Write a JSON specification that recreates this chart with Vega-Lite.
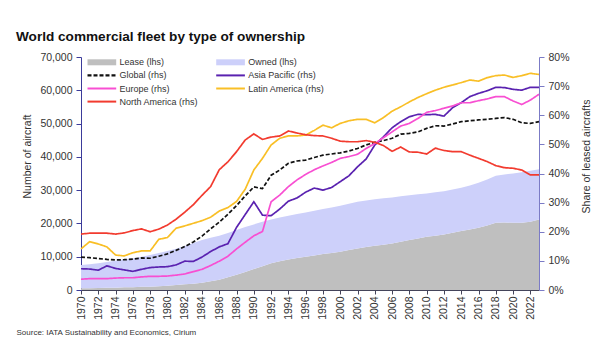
{
  "$schema": "https://vega.github.io/schema/vega-lite/v6.json",
  "width": 458,
  "height": 233,
  "autosize": {"type": "none"},
  "padding": {"left": 81, "top": 57, "right": 65, "bottom": 74},
  "background": "white",
  "config": {
    "font": "Liberation Sans",
    "view": {"stroke": null},
    "axis": {"grid": false, "labelFont": "Liberation Sans", "titleFont": "Liberation Sans"},
    "axisX": {"labelOverlap": false, "labelFlush": false}
  },
  "title": {
    "text": "World commercial fleet by type of ownership",
    "anchor": "start",
    "frame": "group",
    "fontSize": 13.6,
    "fontWeight": "bold",
    "color": "#111111",
    "dx": -65,
    "dy": 19,
    "offset": 16,
    "baseline": "alphabetic"
  },
  "datasets": {
    "fleet": [
      {"year": 1970, "Lease (lhs)": 500, "Owned (lhs)": 7000},
      {"year": 1971, "Lease (lhs)": 550, "Owned (lhs)": 7200},
      {"year": 1972, "Lease (lhs)": 600, "Owned (lhs)": 7400},
      {"year": 1973, "Lease (lhs)": 650, "Owned (lhs)": 7750},
      {"year": 1974, "Lease (lhs)": 700, "Owned (lhs)": 8100},
      {"year": 1975, "Lease (lhs)": 800, "Owned (lhs)": 8350},
      {"year": 1976, "Lease (lhs)": 850, "Owned (lhs)": 8650},
      {"year": 1977, "Lease (lhs)": 950, "Owned (lhs)": 9050},
      {"year": 1978, "Lease (lhs)": 1000, "Owned (lhs)": 9500},
      {"year": 1979, "Lease (lhs)": 1150, "Owned (lhs)": 9950},
      {"year": 1980, "Lease (lhs)": 1300, "Owned (lhs)": 10400},
      {"year": 1981, "Lease (lhs)": 1500, "Owned (lhs)": 10900},
      {"year": 1982, "Lease (lhs)": 1700, "Owned (lhs)": 11500},
      {"year": 1983, "Lease (lhs)": 1900, "Owned (lhs)": 12200},
      {"year": 1984, "Lease (lhs)": 2200, "Owned (lhs)": 12800},
      {"year": 1985, "Lease (lhs)": 2600, "Owned (lhs)": 13100},
      {"year": 1986, "Lease (lhs)": 3100, "Owned (lhs)": 13200},
      {"year": 1987, "Lease (lhs)": 3800, "Owned (lhs)": 13300},
      {"year": 1988, "Lease (lhs)": 4600, "Owned (lhs)": 13400},
      {"year": 1989, "Lease (lhs)": 5400, "Owned (lhs)": 13500},
      {"year": 1990, "Lease (lhs)": 6300, "Owned (lhs)": 13400},
      {"year": 1991, "Lease (lhs)": 7100, "Owned (lhs)": 13400},
      {"year": 1992, "Lease (lhs)": 8000, "Owned (lhs)": 13200},
      {"year": 1993, "Lease (lhs)": 8600, "Owned (lhs)": 13200},
      {"year": 1994, "Lease (lhs)": 9200, "Owned (lhs)": 13100},
      {"year": 1995, "Lease (lhs)": 9600, "Owned (lhs)": 13200},
      {"year": 1996, "Lease (lhs)": 10000, "Owned (lhs)": 13300},
      {"year": 1997, "Lease (lhs)": 10400, "Owned (lhs)": 13400},
      {"year": 1998, "Lease (lhs)": 10800, "Owned (lhs)": 13500},
      {"year": 1999, "Lease (lhs)": 11100, "Owned (lhs)": 13700},
      {"year": 2000, "Lease (lhs)": 11500, "Owned (lhs)": 13800},
      {"year": 2001, "Lease (lhs)": 12000, "Owned (lhs)": 13900},
      {"year": 2002, "Lease (lhs)": 12500, "Owned (lhs)": 14000},
      {"year": 2003, "Lease (lhs)": 12900, "Owned (lhs)": 14000},
      {"year": 2004, "Lease (lhs)": 13300, "Owned (lhs)": 14000},
      {"year": 2005, "Lease (lhs)": 13600, "Owned (lhs)": 14000},
      {"year": 2006, "Lease (lhs)": 14000, "Owned (lhs)": 13800},
      {"year": 2007, "Lease (lhs)": 14500, "Owned (lhs)": 13700},
      {"year": 2008, "Lease (lhs)": 15000, "Owned (lhs)": 13500},
      {"year": 2009, "Lease (lhs)": 15500, "Owned (lhs)": 13300},
      {"year": 2010, "Lease (lhs)": 16000, "Owned (lhs)": 13000},
      {"year": 2011, "Lease (lhs)": 16300, "Owned (lhs)": 13100},
      {"year": 2012, "Lease (lhs)": 16700, "Owned (lhs)": 13000},
      {"year": 2013, "Lease (lhs)": 17200, "Owned (lhs)": 13000},
      {"year": 2014, "Lease (lhs)": 17700, "Owned (lhs)": 13000},
      {"year": 2015, "Lease (lhs)": 18200, "Owned (lhs)": 13200},
      {"year": 2016, "Lease (lhs)": 18700, "Owned (lhs)": 13500},
      {"year": 2017, "Lease (lhs)": 19400, "Owned (lhs)": 13800},
      {"year": 2018, "Lease (lhs)": 20200, "Owned (lhs)": 14100},
      {"year": 2019, "Lease (lhs)": 20300, "Owned (lhs)": 14400},
      {"year": 2020, "Lease (lhs)": 20200, "Owned (lhs)": 14800},
      {"year": 2021, "Lease (lhs)": 20200, "Owned (lhs)": 15200},
      {"year": 2022, "Lease (lhs)": 20500, "Owned (lhs)": 15300},
      {"year": 2023, "Lease (lhs)": 21200, "Owned (lhs)": 15100}
    ],
    "shares": [
      {"year": 1970, "Global (rhs)": 11.3, "Asia Pacific (rhs)": 7.3, "Europe (rhs)": 3.7, "Latin America (rhs)": 14.1, "North America (rhs)": 19.2},
      {"year": 1971, "Global (rhs)": 11.1, "Asia Pacific (rhs)": 7.2, "Europe (rhs)": 3.9, "Latin America (rhs)": 16.6, "North America (rhs)": 19.5},
      {"year": 1972, "Global (rhs)": 10.8, "Asia Pacific (rhs)": 6.8, "Europe (rhs)": 3.9, "Latin America (rhs)": 15.8, "North America (rhs)": 19.5},
      {"year": 1973, "Global (rhs)": 10.5, "Asia Pacific (rhs)": 8.3, "Europe (rhs)": 3.9, "Latin America (rhs)": 14.8, "North America (rhs)": 19.5},
      {"year": 1974, "Global (rhs)": 10.3, "Asia Pacific (rhs)": 7.4, "Europe (rhs)": 4.1, "Latin America (rhs)": 12.0, "North America (rhs)": 19.2},
      {"year": 1975, "Global (rhs)": 10.4, "Asia Pacific (rhs)": 6.9, "Europe (rhs)": 4.2, "Latin America (rhs)": 11.7, "North America (rhs)": 19.6},
      {"year": 1976, "Global (rhs)": 10.6, "Asia Pacific (rhs)": 6.4, "Europe (rhs)": 4.2, "Latin America (rhs)": 12.8, "North America (rhs)": 20.4},
      {"year": 1977, "Global (rhs)": 11.0, "Asia Pacific (rhs)": 7.1, "Europe (rhs)": 4.5, "Latin America (rhs)": 13.4, "North America (rhs)": 21.0},
      {"year": 1978, "Global (rhs)": 10.9, "Asia Pacific (rhs)": 7.7, "Europe (rhs)": 4.7, "Latin America (rhs)": 13.4, "North America (rhs)": 20.0},
      {"year": 1979, "Global (rhs)": 11.6, "Asia Pacific (rhs)": 7.9, "Europe (rhs)": 4.7, "Latin America (rhs)": 17.4, "North America (rhs)": 20.9},
      {"year": 1980, "Global (rhs)": 12.4, "Asia Pacific (rhs)": 8.0, "Europe (rhs)": 4.8, "Latin America (rhs)": 18.0, "North America (rhs)": 22.3},
      {"year": 1981, "Global (rhs)": 13.6, "Asia Pacific (rhs)": 8.6, "Europe (rhs)": 5.1, "Latin America (rhs)": 21.2, "North America (rhs)": 24.3},
      {"year": 1982, "Global (rhs)": 14.9, "Asia Pacific (rhs)": 9.9, "Europe (rhs)": 5.5, "Latin America (rhs)": 22.0, "North America (rhs)": 26.7},
      {"year": 1983, "Global (rhs)": 16.5, "Asia Pacific (rhs)": 9.8, "Europe (rhs)": 6.3, "Latin America (rhs)": 22.9, "North America (rhs)": 29.3},
      {"year": 1984, "Global (rhs)": 18.5, "Asia Pacific (rhs)": 11.3, "Europe (rhs)": 7.1, "Latin America (rhs)": 23.8, "North America (rhs)": 32.5},
      {"year": 1985, "Global (rhs)": 21.0, "Asia Pacific (rhs)": 13.2, "Europe (rhs)": 8.4, "Latin America (rhs)": 25.0, "North America (rhs)": 35.5},
      {"year": 1986, "Global (rhs)": 23.3, "Asia Pacific (rhs)": 14.8, "Europe (rhs)": 9.9, "Latin America (rhs)": 27.1, "North America (rhs)": 41.3},
      {"year": 1987, "Global (rhs)": 26.0, "Asia Pacific (rhs)": 15.9, "Europe (rhs)": 11.6, "Latin America (rhs)": 28.3, "North America (rhs)": 44.0},
      {"year": 1988, "Global (rhs)": 29.0, "Asia Pacific (rhs)": 21.5, "Europe (rhs)": 14.1, "Latin America (rhs)": 30.4, "North America (rhs)": 47.5},
      {"year": 1989, "Global (rhs)": 32.3, "Asia Pacific (rhs)": 25.9, "Europe (rhs)": 16.4, "Latin America (rhs)": 34.6, "North America (rhs)": 51.5},
      {"year": 1990, "Global (rhs)": 35.4, "Asia Pacific (rhs)": 30.3, "Europe (rhs)": 18.6, "Latin America (rhs)": 41.2, "North America (rhs)": 53.6},
      {"year": 1991, "Global (rhs)": 34.8, "Asia Pacific (rhs)": 25.7, "Europe (rhs)": 20.1, "Latin America (rhs)": 45.2, "North America (rhs)": 51.7},
      {"year": 1992, "Global (rhs)": 39.4, "Asia Pacific (rhs)": 25.5, "Europe (rhs)": 30.3, "Latin America (rhs)": 49.8, "North America (rhs)": 52.5},
      {"year": 1993, "Global (rhs)": 41.2, "Asia Pacific (rhs)": 27.8, "Europe (rhs)": 32.6, "Latin America (rhs)": 52.1, "North America (rhs)": 52.9},
      {"year": 1994, "Global (rhs)": 43.5, "Asia Pacific (rhs)": 30.5, "Europe (rhs)": 35.5, "Latin America (rhs)": 52.9, "North America (rhs)": 54.6},
      {"year": 1995, "Global (rhs)": 44.3, "Asia Pacific (rhs)": 31.6, "Europe (rhs)": 37.8, "Latin America (rhs)": 52.9, "North America (rhs)": 53.9},
      {"year": 1996, "Global (rhs)": 44.6, "Asia Pacific (rhs)": 33.6, "Europe (rhs)": 39.7, "Latin America (rhs)": 53.2, "North America (rhs)": 53.3},
      {"year": 1997, "Global (rhs)": 45.5, "Asia Pacific (rhs)": 35.0, "Europe (rhs)": 41.3, "Latin America (rhs)": 54.8, "North America (rhs)": 53.0},
      {"year": 1998, "Global (rhs)": 46.3, "Asia Pacific (rhs)": 34.3, "Europe (rhs)": 42.6, "Latin America (rhs)": 56.6, "North America (rhs)": 52.9},
      {"year": 1999, "Global (rhs)": 46.7, "Asia Pacific (rhs)": 35.2, "Europe (rhs)": 43.8, "Latin America (rhs)": 55.7, "North America (rhs)": 52.1},
      {"year": 2000, "Global (rhs)": 47.1, "Asia Pacific (rhs)": 37.2, "Europe (rhs)": 45.2, "Latin America (rhs)": 57.2, "North America (rhs)": 51.1},
      {"year": 2001, "Global (rhs)": 47.7, "Asia Pacific (rhs)": 39.2, "Europe (rhs)": 45.8, "Latin America (rhs)": 58.1, "North America (rhs)": 50.9},
      {"year": 2002, "Global (rhs)": 48.6, "Asia Pacific (rhs)": 42.3, "Europe (rhs)": 46.6, "Latin America (rhs)": 58.6, "North America (rhs)": 50.9},
      {"year": 2003, "Global (rhs)": 49.8, "Asia Pacific (rhs)": 45.0, "Europe (rhs)": 48.6, "Latin America (rhs)": 58.6, "North America (rhs)": 51.3},
      {"year": 2004, "Global (rhs)": 50.7, "Asia Pacific (rhs)": 49.8, "Europe (rhs)": 50.3, "Latin America (rhs)": 57.4, "North America (rhs)": 50.7},
      {"year": 2005, "Global (rhs)": 51.3, "Asia Pacific (rhs)": 52.6, "Europe (rhs)": 52.3, "Latin America (rhs)": 59.2, "North America (rhs)": 49.6},
      {"year": 2006, "Global (rhs)": 52.1, "Asia Pacific (rhs)": 55.7, "Europe (rhs)": 54.3, "Latin America (rhs)": 61.4, "North America (rhs)": 47.6},
      {"year": 2007, "Global (rhs)": 53.5, "Asia Pacific (rhs)": 57.8, "Europe (rhs)": 56.3, "Latin America (rhs)": 62.9, "North America (rhs)": 49.1},
      {"year": 2008, "Global (rhs)": 53.8, "Asia Pacific (rhs)": 59.5, "Europe (rhs)": 57.2, "Latin America (rhs)": 64.6, "North America (rhs)": 47.4},
      {"year": 2009, "Global (rhs)": 54.3, "Asia Pacific (rhs)": 60.3, "Europe (rhs)": 58.9, "Latin America (rhs)": 66.1, "North America (rhs)": 47.3},
      {"year": 2010, "Global (rhs)": 55.5, "Asia Pacific (rhs)": 60.2, "Europe (rhs)": 61.0, "Latin America (rhs)": 67.4, "North America (rhs)": 46.7},
      {"year": 2011, "Global (rhs)": 56.4, "Asia Pacific (rhs)": 60.3, "Europe (rhs)": 61.6, "Latin America (rhs)": 68.6, "North America (rhs)": 48.7},
      {"year": 2012, "Global (rhs)": 56.3, "Asia Pacific (rhs)": 59.7, "Europe (rhs)": 62.4, "Latin America (rhs)": 69.6, "North America (rhs)": 47.9},
      {"year": 2013, "Global (rhs)": 57.0, "Asia Pacific (rhs)": 62.6, "Europe (rhs)": 63.2, "Latin America (rhs)": 70.4, "North America (rhs)": 47.5},
      {"year": 2014, "Global (rhs)": 57.8, "Asia Pacific (rhs)": 64.3, "Europe (rhs)": 64.3, "Latin America (rhs)": 71.2, "North America (rhs)": 47.5},
      {"year": 2015, "Global (rhs)": 58.1, "Asia Pacific (rhs)": 66.4, "Europe (rhs)": 64.3, "Latin America (rhs)": 72.1, "North America (rhs)": 46.3},
      {"year": 2016, "Global (rhs)": 58.4, "Asia Pacific (rhs)": 67.5, "Europe (rhs)": 65.0, "Latin America (rhs)": 71.7, "North America (rhs)": 45.2},
      {"year": 2017, "Global (rhs)": 58.6, "Asia Pacific (rhs)": 68.4, "Europe (rhs)": 65.6, "Latin America (rhs)": 72.9, "North America (rhs)": 44.1},
      {"year": 2018, "Global (rhs)": 58.9, "Asia Pacific (rhs)": 69.6, "Europe (rhs)": 66.4, "Latin America (rhs)": 73.6, "North America (rhs)": 42.7},
      {"year": 2019, "Global (rhs)": 59.2, "Asia Pacific (rhs)": 69.5, "Europe (rhs)": 66.4, "Latin America (rhs)": 73.8, "North America (rhs)": 42.0},
      {"year": 2020, "Global (rhs)": 58.6, "Asia Pacific (rhs)": 68.9, "Europe (rhs)": 64.9, "Latin America (rhs)": 73.0, "North America (rhs)": 41.8},
      {"year": 2021, "Global (rhs)": 57.4, "Asia Pacific (rhs)": 68.6, "Europe (rhs)": 63.7, "Latin America (rhs)": 73.6, "North America (rhs)": 41.2},
      {"year": 2022, "Global (rhs)": 57.2, "Asia Pacific (rhs)": 69.6, "Europe (rhs)": 65.2, "Latin America (rhs)": 74.4, "North America (rhs)": 39.5},
      {"year": 2023, "Global (rhs)": 57.8, "Asia Pacific (rhs)": 69.6, "Europe (rhs)": 67.2, "Latin America (rhs)": 74.0, "North America (rhs)": 39.5}
    ]
  },
  "layer": [
    {
      "data": {"name": "fleet"},
      "transform": [{"fold": ["Lease (lhs)", "Owned (lhs)"], "as": ["series", "value"]}],
      "mark": {"type": "area"},
      "encoding": {
        "x": {
          "field": "year", "type": "quantitative",
          "scale": {"domain": [1970, 2023], "nice": false, "zero": false},
          "axis": {
            "values": [1970,1972,1974,1976,1978,1980,1982,1984,1986,1988,1990,1992,1994,1996,1998,2000,2002,2004,2006,2008,2010,2012,2014,2016,2018,2020,2022],
            "format": "d", "labelAngle": -90, "labelFontSize": 10.5, "labelColor": "#333333",
            "labelOverlap": false, "labelFlush": false,
            "labelPadding": 2, "tickSize": 4, "tickColor": "#44445a", "domainColor": "#44445a",
            "title": "Source: IATA Sustainability and Economics, Cirium",
            "titleFontSize": 8, "titleFontWeight": "normal", "titleColor": "#333333",
            "titleX": -65, "titleY": 44, "titleAlign": "left", "titleBaseline": "alphabetic", "titleAnchor": "start"
          }
        },
        "y": {
          "field": "value", "type": "quantitative", "stack": "zero",
          "scale": {"domain": [0, 70000], "nice": false},
          "axis": {
            "values": [0,10000,20000,30000,40000,50000,60000,70000], "format": ",.0f",
            "labelFontSize": 10.5, "labelColor": "#333333", "labelPadding": 4,
            "tickSize": 5, "tickColor": "#3b3b9a", "domainColor": "#3b3b9a",
            "title": "Number of aircraft", "titleFontSize": 10.5, "titleFontWeight": "normal", "titleColor": "#333333",
            "titleAngle": 270, "titleX": -54, "titleY": 99, "titleBaseline": "middle", "titleAlign": "center"
          }
        },
        "color": {
          "field": "series", "type": "nominal",
          "scale": {
            "domain": ["Lease (lhs)", "Owned (lhs)", "Global (rhs)", "Asia Pacific (rhs)", "Europe (rhs)", "Latin America (rhs)", "North America (rhs)"],
            "range": ["#bfbfbf", "#cdd0fa", "#111111", "#5a22b0", "#f84fd2", "#f9bf26", "#f23b2f"]
          },
          "legend": {
            "orient": "none", "legendX": 6.5, "legendY": 0.3, "columns": 2, "direction": "horizontal", "title": null,
            "symbolType": "M-1,-0.2H4.74V0.2H-1Z", "symbolSize": 100, "symbolStrokeWidth": 0,
            "labelFontSize": 9, "labelColor": "#333333", "labelOffset": 22, "labelLimit": 200,
            "rowPadding": 3.1, "columnPadding": 17.7,
            "encode": {
              "symbols": {
                "update": {
                  "fill": {"scale": "color", "field": "value"},
                  "stroke": {"value": "transparent"},
                  "strokeWidth": {"value": 0},
                  "opacity": {"value": 1},
                  "shape": {"signal": "indexof(['Lease (lhs)','Owned (lhs)'], datum.value) >= 0 ? 'M-1,-0.6H4.74V0.6H-1Z' : (datum.value === 'Global (rhs)' ? 'M-1,-0.22H-0.2V0.22H-1Z M0.2,-0.22H1V0.22H0.2Z M1.4,-0.22H2.2V0.22H1.4Z M2.6,-0.22H3.4V0.22H2.6Z M3.8,-0.22H4.6V0.22H3.8Z' : 'M-1,-0.2H4.74V0.2H-1Z')"}
                }
              }
            }
          }
        },
        "order": {"field": "series", "sort": "ascending"}
      }
    },
    {
      "data": {"name": "shares"},
      "transform": [{"fold": ["Global (rhs)", "Asia Pacific (rhs)", "Europe (rhs)", "Latin America (rhs)", "North America (rhs)"], "as": ["series", "share"]}],
      "mark": {"type": "line", "strokeWidth": 1.7},
      "encoding": {
        "x": {
          "field": "year", "type": "quantitative",
          "axis": {
            "values": [1970,1972,1974,1976,1978,1980,1982,1984,1986,1988,1990,1992,1994,1996,1998,2000,2002,2004,2006,2008,2010,2012,2014,2016,2018,2020,2022],
            "format": "d", "labelAngle": -90, "labelFontSize": 10.5, "labelColor": "#333333",
            "labelOverlap": false, "labelFlush": false,
            "labelPadding": 2, "tickSize": 4, "tickColor": "#44445a", "domainColor": "#44445a",
            "title": "Source: IATA Sustainability and Economics, Cirium",
            "titleFontSize": 8, "titleFontWeight": "normal", "titleColor": "#333333",
            "titleX": -65, "titleY": 44, "titleAlign": "left", "titleBaseline": "alphabetic", "titleAnchor": "start"
          }
        },
        "y": {
          "field": "share", "type": "quantitative",
          "scale": {"domain": [0, 80], "nice": false},
          "axis": {
            "orient": "right",
            "values": [0,10,20,30,40,50,60,70,80], "labelExpr": "datum.value + '%'",
            "labelFontSize": 10.5, "labelColor": "#333333", "labelPadding": 4,
            "tickSize": 5, "tickColor": "#7b7bc6", "domainColor": "#7b7bc6",
            "title": "Share of leased aircrafts", "titleFontSize": 10.5, "titleFontWeight": "normal", "titleColor": "#333333",
            "titleAngle": 270, "titleX": 47, "titleY": 99, "titleBaseline": "middle", "titleAlign": "center"
          }
        },
        "color": {"field": "series", "type": "nominal"},
        "strokeDash": {
          "field": "series", "type": "nominal",
          "scale": {
            "domain": ["Global (rhs)", "Asia Pacific (rhs)", "Europe (rhs)", "Latin America (rhs)", "North America (rhs)"],
            "range": [[4, 2], [1, 0], [1, 0], [1, 0], [1, 0]]
          },
          "legend": null
        }
      }
    }
  ],
  "resolve": {"scale": {"y": "independent"}}
}
